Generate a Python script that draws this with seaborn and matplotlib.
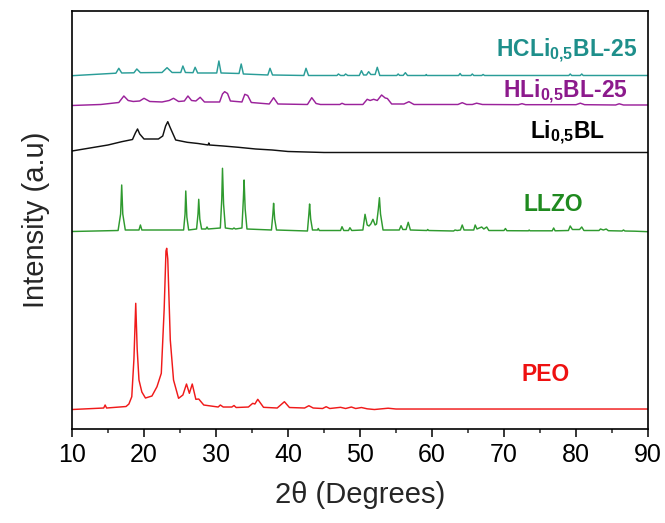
import matplotlib
matplotlib.use("Agg")
import matplotlib.pyplot as plt
import seaborn as sns
import pandas as pd

# XRD patterns: 2-theta positions (degrees) and stacked intensities (a.u., offset per sample)
peo_2theta = [10, 14.4, 14.6, 14.8, 17.5, 17.9, 18.3, 18.6, 18.85, 19.05, 19.3, 19.7, 20.2, 21.1,
              21.8, 22.4, 22.8, 23.05, 23.15, 23.3, 23.65, 24.1, 24.8, 25.4, 25.9, 26.3, 26.7,
              27.2, 27.6, 28.3, 30.3, 30.6, 31.0, 32.2, 32.5, 32.8, 34.5, 35.1, 35.4, 35.8, 36.6,
              38.5, 39.5, 40.2, 42.3, 42.9, 43.5, 44.8, 45.3, 45.8, 47.3, 48.0, 48.8, 49.4, 50.2,
              51.0, 52.0, 53.9, 55.0, 90]
peo_int = [19.5, 21, 24, 21, 22.5, 25, 32.3, 70, 125.7, 80, 49, 37, 31, 33,
           42.3, 55.7, 120, 178, 180.7, 170, 89, 49, 30.7, 34, 45, 35.7, 45,
           29.7, 30, 24, 22, 24, 22, 22, 23.5, 21.5, 22, 25.7, 25, 29.7, 21.7,
           21, 27.3, 21.5, 21, 23.3, 21, 20.5, 22.3, 20.5, 21.7, 20.5, 22, 20.5, 21.5,
           20.2, 19.5, 20.8, 20, 20]

llzo_2theta = [10, 16.4, 16.75, 16.9, 17.05, 17.4, 19.3, 19.5, 19.7, 25.5, 25.7, 25.8, 25.95, 26.2,
               27.3, 27.5, 27.6, 27.75, 28.0, 28.6, 28.75, 28.9, 30.6, 30.8, 30.9, 31.05, 31.3,
               32.3, 32.5, 32.7, 33.6, 33.8, 33.9, 34.05, 34.3, 37.7, 37.9, 38.0, 38.15, 38.4,
               42.7, 42.9, 43.0, 43.15, 43.4, 44.1, 44.2, 44.35, 47.3, 47.5, 47.75, 48.4, 48.6,
               48.85, 50.4, 50.7, 51.0, 51.25, 51.5, 51.8, 52.1, 52.3, 52.55, 52.7, 52.85, 53.2,
               55.45, 55.7, 55.95, 56.4, 56.7, 57.0, 59.3, 59.4, 59.55, 63.0, 63.2, 63.5, 63.95,
               64.2, 64.45, 65.8, 66.0, 66.25, 66.9, 67.2, 67.6, 67.9, 70.0, 70.2, 70.4, 73.4,
               73.5, 73.6, 76.7, 76.9, 77.1, 78.95, 79.2, 79.5, 80.5, 80.8, 81.1, 83.2, 83.4,
               83.8, 84.2, 84.5, 86.4, 86.6, 86.8, 88.2, 90]
llzo_int = [197.5, 198.5, 215, 244, 215, 199, 199, 204, 199, 199, 215, 238, 212, 199,
            200, 215, 229.7, 210, 200, 200, 202, 200, 201, 230, 260.7, 225, 201,
            200, 201, 200, 201, 230, 249, 220, 200, 199, 215, 225.7, 210, 199,
            198, 215, 225, 210, 199, 199, 200.5, 198.5, 198.5, 202.3, 198.5, 198.5, 201.3,
            198.5, 199, 214.7, 204, 203, 205, 209.7, 204, 205, 220, 231.3, 215, 199,
            199, 203.3, 199.5, 199.5, 206.7, 199, 198.5, 199.5, 198.5, 198, 199, 198.5, 199,
            204, 199, 199, 204, 200, 202, 200, 202, 198.5, 198.5, 200.5, 198.3, 198.2,
            199, 198.2, 198.2, 201, 198.2, 198.5, 203, 199.5, 199.5, 202, 198.5, 198.5, 200,
            199, 200, 198.3, 198, 199, 198, 197.8, 197.3]

li05bl_2theta = [10, 12.5, 15, 16.9, 18.4, 18.8, 19.1, 19.4, 20.0, 22.0, 22.6, 23.0, 23.3, 23.6,
                 24.4, 26.0, 27.5, 28.9, 29.0, 29.1, 31.0, 33.1, 35.5, 37.8, 40, 45, 90]
li05bl_int = [278, 281, 284, 287.3, 289.5, 296, 300, 295, 290, 290, 293, 303, 307.3, 302,
              289, 286.7, 285.5, 284, 286, 284, 283, 281.7, 280, 279, 277.5, 276.5, 276.5]

hli_2theta = [10, 14, 16.5, 17.2, 17.8, 18.5, 19.4, 20.0, 20.8, 22.5, 23.5, 24.1, 24.8, 25.6,
              26.1, 26.6, 27.2, 27.8, 28.4, 30.5, 30.9, 31.2, 31.6, 32.0, 33.6, 34.0, 34.4,
              34.9, 37.4, 38.0, 38.6, 42.7, 43.3, 43.9, 44.5, 47.2, 47.5, 47.9, 50.4, 51.0,
              51.4, 51.9, 52.4, 53.0, 53.5, 53.8, 54.4, 56.1, 56.8, 57.5, 63.6, 64.2, 64.8,
              65.6, 66.2, 67.0, 72.0, 72.5, 73.0, 80.0, 80.6, 81.2, 85.5, 86.0, 86.6, 90]
hli_int = [323.5, 324.5, 326.5, 333, 328.5, 327.5, 328, 330.7, 327.5, 327, 328.5, 330.7, 327.5, 328,
           333, 328.5, 328, 331.7, 327, 327, 335, 337.3, 335.5, 328, 327, 334.7, 333.5,
           326.5, 325, 331.3, 325, 324.5, 331.3, 325.5, 324.5, 324.5, 325.7, 324.5, 324.5, 329.7,
           328.5, 329.7, 328.5, 334, 331, 330.5, 325, 325, 327.3, 324.5, 324.5, 326.3, 324.5,
           324.5, 325.8, 324.5, 324.3, 325.3, 324.3, 324.3, 325.8, 324.3, 324, 325.2, 324, 324]

hcli_2theta = [10, 16.1, 16.5, 16.9, 18.6, 19.0, 19.5, 22.5, 23.2, 23.9, 25.1, 25.4, 25.75, 26.8,
               27.1, 27.45, 30.1, 30.4, 30.7, 33.2, 33.5, 33.8, 37.2, 37.5, 37.85, 42.2, 42.5,
               42.85, 46.8, 47.0, 47.3, 47.8, 48.0, 48.3, 49.9, 50.2, 50.5, 50.9, 51.2, 51.5,
               52.1, 52.4, 52.75, 55.1, 55.3, 55.5, 56.0, 56.3, 56.6, 59.1, 59.2, 59.3, 63.7,
               63.9, 64.1, 65.4, 65.6, 65.8, 66.9, 67.1, 67.3, 79.0, 79.2, 79.4, 80.6, 80.8,
               81.0, 90]
hcli_int = [353.3, 355.8, 360.7, 356, 356.2, 360, 356.3, 356.5, 361.3, 356.5, 356.5, 363, 356.5, 356.3,
            361.7, 356, 356, 368, 356, 355.5, 365, 355, 354, 360.7, 354, 353.5, 360.7,
            353.5, 353.5, 355, 353.5, 353.5, 355, 353.5, 353.5, 358.3, 354, 354, 357.3, 354.5,
            354.5, 361.7, 353.5, 353.5, 355, 353.6, 353.6, 356.3, 353.5, 353.5, 354.5, 353.5, 353.5,
            355.5, 353.5, 353.5, 355, 353.5, 353.5, 354.5, 353.5, 353.5, 355, 353.5, 353.5, 355,
            353.5, 353.5]

samples = ["PEO", "LLZO", "Li0,5BL", "HLi0,5BL-25", "HCLi0,5BL-25"]
line_colors = ["#f01a1a", "#2f9a2f", "#111111", "#9b229b", "#2a9d98"]
text_colors = ["#ee1111", "#1f8a1f", "#000000", "#8c1a8c", "#1e8f8b"]
label_texts = ["PEO", "LLZO", r"Li$_\mathbf{0{,}5}$BL", r"HLi$_\mathbf{0{,}5}$BL-25",
               r"HCLi$_\mathbf{0{,}5}$BL-25"]
label_right = [79.2, 81.0, 84.0, 87.2, 88.5]
label_base = [48, 218, 290, 331, 372]

frames = []
for name, tt, ii in zip(samples,
                        [peo_2theta, llzo_2theta, li05bl_2theta, hli_2theta, hcli_2theta],
                        [peo_int, llzo_int, li05bl_int, hli_int, hcli_int]):
    frames.append(pd.DataFrame({"two_theta": tt, "intensity": ii, "sample": name}))
df = pd.concat(frames, ignore_index=True)

sns.set_style("ticks")
plt.rcParams["font.family"] = ["Liberation Sans", "DejaVu Sans"]
plt.rcParams["mathtext.fontset"] = "custom"
plt.rcParams["mathtext.bf"] = "Liberation Sans:bold"
plt.rcParams["mathtext.rm"] = "Liberation Sans"

fig = plt.figure(figsize=(6.65, 5.23), dpi=100)
ax = fig.add_axes([0.1083, 0.1797, 0.8661, 0.7993])

sns.lineplot(data=df, x="two_theta", y="intensity", hue="sample", hue_order=samples,
             palette=dict(zip(samples, line_colors)), estimator=None, sort=False,
             linewidth=1.05, legend=False, ax=ax)

for txt, col, xr, yb in zip(label_texts, text_colors, label_right, label_base):
    ax.text(xr, yb, txt, color=col, fontsize=16.5, fontweight="bold",
            ha="right", va="baseline")

ax.set_xlim(10, 90)
ax.set_ylim(0, 418)
ax.set_xticks(range(10, 91, 10))
ax.set_xticks(range(15, 90, 10), minor=True)
ax.set_yticks([])
ax.tick_params(axis="x", which="major", direction="out", length=6, width=1.1,
               labelsize=18, pad=4, colors="black")
ax.tick_params(axis="x", which="minor", direction="out", length=3.2, width=1.1)
for sp in ax.spines.values():
    sp.set_linewidth(1.2)
    sp.set_color("black")
    sp.set_visible(True)

ax.set_xlabel("2θ (Degrees)", fontsize=21, labelpad=10)
ax.set_ylabel("Intensity (a.u)", fontsize=21, labelpad=16)

fig.savefig("out.png", dpi=100)
